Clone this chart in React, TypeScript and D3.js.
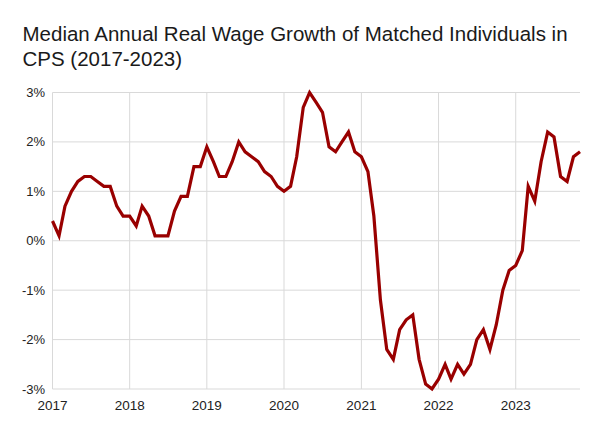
// Dependencies
import React, { useRef, useEffect } from "react";
import * as d3 from "d3";

// Monthly values, Jan 2017 - Nov 2023 (percent)
const wageGrowth: number[] = [
  // 2017
  0.4, 0.1, 0.7, 1.0, 1.2, 1.3, 1.3, 1.2, 1.1, 1.1, 0.7, 0.5,
  // 2018
  0.5, 0.3, 0.7, 0.5, 0.1, 0.1, 0.1, 0.6, 0.9, 0.9, 1.5, 1.5,
  // 2019
  1.9, 1.6, 1.3, 1.3, 1.6, 2.0, 1.8, 1.7, 1.6, 1.4, 1.3, 1.1,
  // 2020
  1.0, 1.1, 1.7, 2.7, 3.0, 2.8, 2.6, 1.9, 1.8, 2.0, 2.2, 1.8,
  // 2021
  1.7, 1.4, 0.5, -1.2, -2.2, -2.4, -1.8, -1.6, -1.5, -2.4, -2.9, -3.0,
  // 2022
  -2.8, -2.5, -2.8, -2.5, -2.7, -2.5, -2.0, -1.8, -2.2, -1.7, -1.0, -0.6,
  // 2023
  -0.5, -0.2, 1.1, 0.8, 1.6, 2.2, 2.1, 1.3, 1.2, 1.7, 1.8,
];
const startYear = 2017;
const yTicks: number[] = [-3, -2, -1, 0, 1, 2, 3];
const titleLines: string[] = [
  "Median Annual Real Wage Growth of Matched Individuals in",
  "CPS (2017-2023)",
];

const App: React.FC = () => {
  const chartRef = useRef<SVGSVGElement | null>(null);
  const width = 602;
  const height = 435;

  useEffect(() => {
    if (!chartRef.current) return;
    document.body.style.margin = "0";

    const margin = { top: 92.5, right: 22, bottom: 46, left: 52.5 };
    const font = "'Liberation Sans', Arial, sans-serif";

    const data = wageGrowth.map((v, i) => ({
      date: new Date(startYear, i, 1),
      value: v,
    }));

    const svg = d3.select(chartRef.current);
    svg.selectAll("*").remove();

    // Scales
    const xScale = d3
      .scaleTime()
      .domain([data[0].date, data[data.length - 1].date])
      .range([margin.left, width - margin.right]);
    const yScale = d3
      .scaleLinear()
      .domain([-3, 3])
      .range([height - margin.bottom, margin.top]);

    // Title
    svg
      .append("g")
      .attr("class", "title")
      .selectAll("text")
      .data(titleLines)
      .join("text")
      .attr("x", 22.5)
      .attr("y", (_d, i) => 41 + i * 24.5)
      .attr("font-family", font)
      .attr("font-size", 20.5)
      .attr("fill", "#1a1a1a")
      .text((d) => d);

    // Gridlines
    const grid = svg.append("g").attr("class", "grid");
    grid
      .selectAll("line.h")
      .data(yTicks)
      .join("line")
      .attr("class", "h")
      .attr("x1", margin.left)
      .attr("x2", width - margin.right)
      .attr("y1", (d) => yScale(d))
      .attr("y2", (d) => yScale(d))
      .attr("stroke", "#d9d9d9")
      .attr("stroke-width", 1);

    const yearTicks = xScale.ticks(d3.timeYear.every(1)!);
    grid
      .selectAll("line.v")
      .data(yearTicks)
      .join("line")
      .attr("class", "v")
      .attr("x1", (d) => xScale(d))
      .attr("x2", (d) => xScale(d))
      .attr("y1", margin.top)
      .attr("y2", height - margin.bottom)
      .attr("stroke", "#d9d9d9")
      .attr("stroke-width", 1);

    // Y tick labels
    svg
      .append("g")
      .attr("class", "y-labels")
      .selectAll("text")
      .data(yTicks)
      .join("text")
      .attr("x", margin.left - 7.5)
      .attr("y", (d) => yScale(d))
      .attr("dy", "0.35em")
      .attr("text-anchor", "end")
      .attr("font-family", font)
      .attr("font-size", 13)
      .attr("fill", "#222")
      .text((d) => `${d}%`);

    // X tick labels
    svg
      .append("g")
      .attr("class", "x-labels")
      .selectAll("text")
      .data(yearTicks)
      .join("text")
      .attr("x", (d) => xScale(d))
      .attr("y", height - margin.bottom + 21)
      .attr("text-anchor", "middle")
      .attr("font-family", font)
      .attr("font-size", 13.5)
      .attr("fill", "#222")
      .text((d) => d3.timeFormat("%Y")(d));

    // Line
    const line = d3
      .line<{ date: Date; value: number }>()
      .x((d) => xScale(d.date))
      .y((d) => yScale(d.value));

    svg
      .append("path")
      .datum(data)
      .attr("fill", "none")
      .attr("stroke", "#990000")
      .attr("stroke-width", 3.2)
      .attr("stroke-linejoin", "miter")
      .attr("d", line);
  }, []);

  return (
    <div id="wage-growth-chart">
      <svg ref={chartRef} width={width} height={height} style={{ display: "block", background: "#fff" }} />
    </div>
  );
};

export default App;
